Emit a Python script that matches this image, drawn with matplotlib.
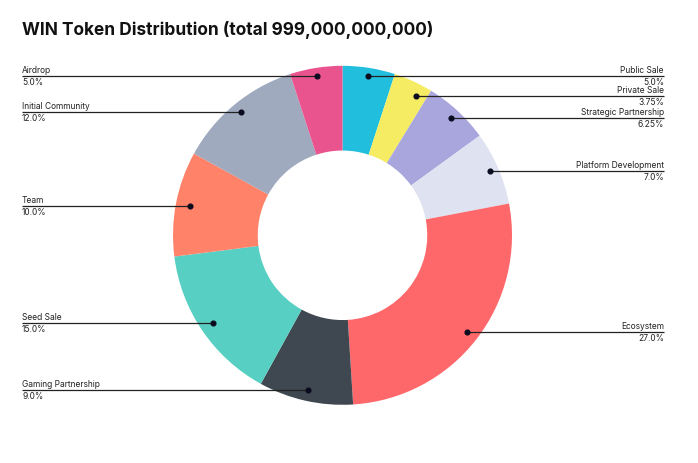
import numpy as np
import matplotlib
matplotlib.use("Agg")
import matplotlib.pyplot as plt

plt.rcParams["font.family"] = ["Inter", "DejaVu Sans"]

TITLE = "WIN Token Distribution (total 999,000,000,000)"

# clockwise from 12 o'clock
names = ["Public Sale", "Private Sale", "Strategic Partnership", "Platform Development",
         "Ecosystem", "Gaming Partnership", "Seed Sale", "Team", "Initial Community", "Airdrop"]
shares = [5.0, 3.75, 6.25, 7.0, 27.0, 9.0, 15.0, 10.0, 12.0, 5.0]
share_labels = ["5.0%", "3.75%", "6.25%", "7.0%", "27.0%", "9.0%", "15.0%", "10.0%", "12.0%", "5.0%"]
colors = ["#22BEDD", "#F5EC63", "#A9A5DD", "#DFE2F0", "#FF686B",
          "#3F4850", "#58CFC3", "#FF8269", "#A0AABF", "#E9548F"]

W, H = 698, 464
CX, CY = 342.5, H - 236.3
R = 169.5
LEFT_X, RIGHT_X = 22, 664
# leader dots are not at a fixed radius in the original, private sale is also off centre
dot_r = [161, 157, 160, 161, 157, 159, 156, 155, 160, 161]
nudge = [0, 3, 0, 0, 0, 0, 0, 0, 0, 0]

fig = plt.figure(figsize=(W / 100, H / 100), dpi=100)
ax = fig.add_axes([0, 0, 1, 1])
ax.pie(shares, colors=colors, startangle=90, counterclock=False, center=(CX, CY), radius=R,
       wedgeprops=dict(width=R * 0.5, linewidth=0), frame=True)
ax.set_xlim(0, W)
ax.set_ylim(0, H)
ax.set_aspect("equal")
ax.axis("off")

start = 0.0
for name, share, label, r, n in zip(names, shares, share_labels, dot_r, nudge):
    ang = np.deg2rad((start + share / 2) * 3.6 + n)
    start += share
    x = CX + r * np.sin(ang)
    y = CY + r * np.cos(ang)
    right = x > CX
    end = RIGHT_X if right else LEFT_X
    ha = "right" if right else "left"
    ax.plot([x, end], [y, y], color="#222222", lw=0.9, solid_capstyle="butt")
    ax.plot(x, y, "o", color="#0b0b20", ms=3.4)
    ax.text(end, y + 2.0, name, ha=ha, va="bottom", fontsize=6.05, color="#222222")
    ax.text(end, y - 1.0, label, ha=ha, va="top", fontsize=6.05, color="#222222")

ax.text(22, H - 30, TITLE, ha="left", va="center", fontsize=12.45, fontweight="bold", color="#111111")

fig.savefig("out.png", dpi=100)
